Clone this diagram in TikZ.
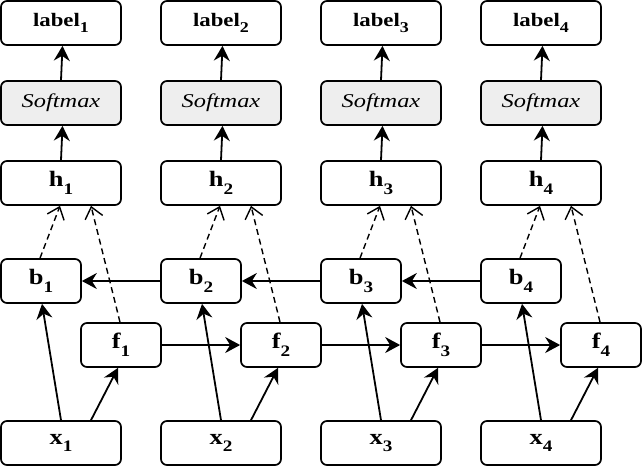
\documentclass[tikz,border=0pt]{standalone}
\usepackage{fontspec}
\setmainfont{Liberation Serif}
\usetikzlibrary{arrows.meta}
\definecolor{smfill}{HTML}{EEEEEE}
\newcommand{\lsub}[1]{\raisebox{-0.35em}{\fontsize{15pt}{15pt}\selectfont #1}}
\newcommand{\vsub}[1]{\raisebox{-0.35em}{\fontsize{16pt}{16pt}\selectfont #1}}
\newcommand{\wide}[1]{\scalebox{1.2}[1]{#1}}
\newcommand{\bfn}{\fontsize{19pt}{22pt}\selectfont\bfseries}
\newcommand{\bfv}{\fontsize{22pt}{24pt}\selectfont\bfseries}
\newcommand{\itn}{\fontsize{19.5pt}{22pt}\selectfont\itshape}
\begin{document}
\begin{tikzpicture}[x=1pt,y=-1pt,
  box/.style={draw, line width=1.7pt, rounded corners=6pt, minimum width=120pt, minimum height=44pt, inner sep=0pt},
  sbox/.style={box, minimum width=80pt},
  smx/.style={box, fill=smfill},
  arr/.style={line width=1.8pt, -{Stealth[length=15pt,width=16pt,inset=5pt]}},
  darr/.style={line width=1.4pt, dash pattern=on 6pt off 4pt, -{Straight Barb[length=11pt,width=18pt]}}]
\useasboundingbox (0,0) rectangle (642,466);
\foreach \i [evaluate=\i as \X using 160*(\i-1)] in {1,...,4} {
  \node[box] (lab\i) at (\X+61,23) {\bfn\wide{label\lsub{\i}}};
  \node[smx] (sm\i) at (\X+61,103) {\itn\scalebox{1.25}[1]{Softmax}};
  \node[box] (h\i) at (\X+61,183) {\bfv\wide{h\vsub{\i}}};
  \node[sbox] (b\i) at (\X+41,281) {\bfv\wide{b\vsub{\i}}};
  \node[sbox] (f\i) at (\X+121,345) {\bfv\wide{f\vsub{\i}}};
  \node[box] (x\i) at (\X+61,443) {\bfv\wide{x\vsub{\i}}};
  \draw[arr] (sm\i.north) -- ([xshift=1.5pt]lab\i.south);
  \draw[arr] (h\i.north) -- ([xshift=1.5pt]sm\i.south);
  \draw[darr] ([xshift=-1pt]b\i.north) -- ([xshift=-1pt]h\i.south);
  \draw[darr] ([xshift=-1pt]f\i.north) -- ([xshift=30pt]h\i.south);
  \draw[arr] (x\i.north) -- ([xshift=1pt]b\i.south);
  \draw[arr] ([xshift=30pt]x\i.north) -- ([xshift=-3pt]f\i.south);
}
\foreach \i/\j in {1/2,2/3,3/4} {
  \draw[arr] (b\j.west) -- (b\i.east);
  \draw[arr] (f\i.east) -- (f\j.west);
}
\end{tikzpicture}
\end{document}
